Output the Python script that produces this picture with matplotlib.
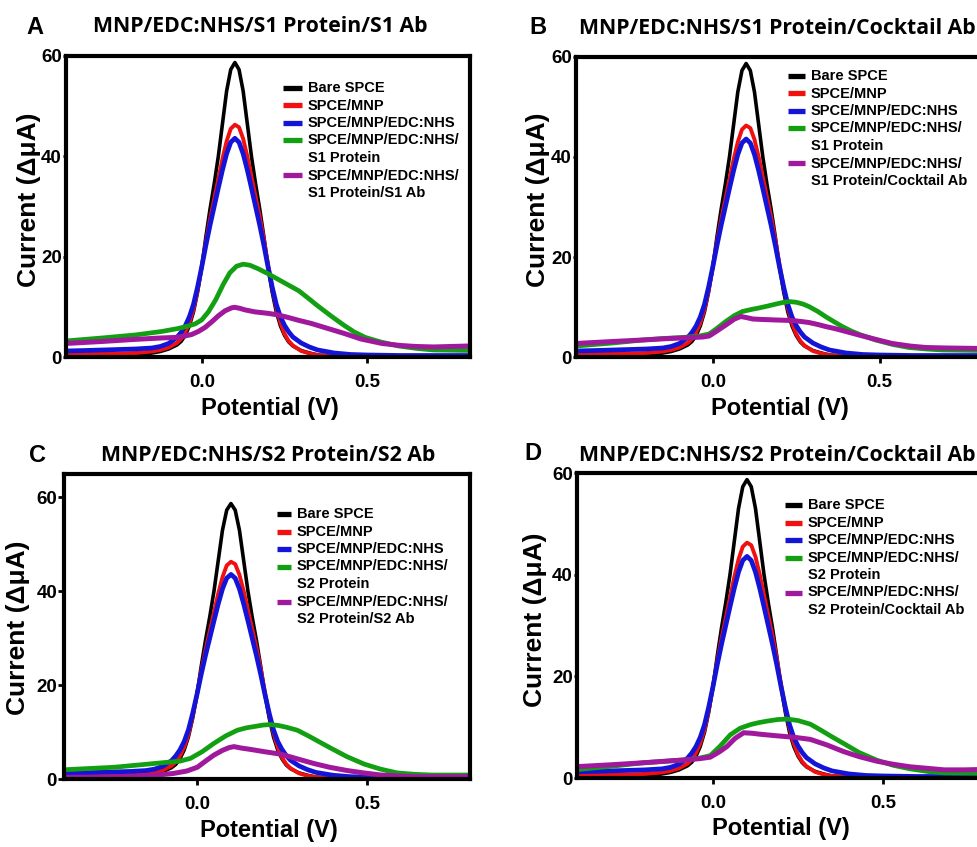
import matplotlib
matplotlib.use('Agg')
import matplotlib.pyplot as plt

# shared curves (same electrodes in every panel), potential in V, current in uA
pot = [-0.41, -0.35, -0.3, -0.25, -0.2, -0.15, -0.125, -0.1, -0.075, -0.0625, -0.05, -0.0375,
       -0.025, -0.0125, 0.0, 0.0125, 0.025, 0.0375, 0.05, 0.0625, 0.075, 0.0875, 0.1,
       0.1125, 0.125, 0.1375, 0.15, 0.1625, 0.175, 0.1875, 0.2, 0.2125, 0.225, 0.2375, 0.25,
       0.2625, 0.275, 0.3, 0.325, 0.35, 0.4, 0.45, 0.5, 0.6, 0.7, 0.81]
bare_spce = [0.1, 0.12, 0.15, 0.2, 0.35, 0.8, 1.1, 1.6, 2.4, 3.1, 4.3, 6.2,
             9.0, 13.0, 18.0, 24.0, 29.5, 34.5, 40.0, 46.5, 53.0, 57.3, 58.7,
             57.3, 53.0, 46.5, 40.0, 34.5, 29.5, 24.0, 18.0, 13.0, 9.0, 6.2, 4.3,
             3.0, 2.2, 1.3, 0.8, 0.4, 0.15, 0.05, 0.0, 0.0, 0.0, 0.0]
spce_mnp = [0.6, 0.6, 0.65, 0.7, 0.8, 1.1, 1.4, 1.9, 2.8, 3.6, 4.9, 6.8,
            9.5, 13.3, 18.0, 23.0, 27.5, 31.5, 35.5, 39.5, 43.0, 45.5, 46.3,
            45.8, 43.5, 40.0, 36.0, 32.0, 28.0, 23.5, 18.5, 13.8, 9.8, 6.8, 4.6,
            3.2, 2.3, 1.2, 0.7, 0.4, 0.2, 0.1, 0.05, 0.0, 0.0, 0.0]
spce_mnp_edc = [1.2, 1.3, 1.4, 1.5, 1.6, 1.8, 2.1, 2.7, 3.9, 4.9, 6.2, 8.0,
                10.5, 14.0, 18.0, 22.3, 26.3, 30.0, 33.7, 37.3, 40.5, 42.8, 43.6,
                42.8, 40.5, 37.3, 33.7, 30.0, 26.3, 22.3, 18.0, 14.0, 10.5, 8.0, 6.3,
                5.0, 4.0, 2.8, 2.0, 1.4, 0.8, 0.5, 0.4, 0.3, 0.3, 0.3]

# panel A
prot_a_x = [-0.41, -0.3, -0.2, -0.12, -0.07, -0.04, -0.02, 0.0, 0.02, 0.042, 0.065, 0.085,
            0.105, 0.125, 0.145, 0.17, 0.2, 0.23, 0.26, 0.293, 0.32, 0.35, 0.394, 0.43,
            0.46, 0.494, 0.54, 0.594, 0.65, 0.7, 0.81]
prot_a = [3.2, 3.8, 4.4, 5.1, 5.7, 6.2, 6.6, 7.4, 9.0, 11.4, 14.5, 16.8,
          18.1, 18.5, 18.3, 17.6, 16.6, 15.5, 14.4, 13.2, 11.8, 10.2, 8.0, 6.3,
          5.0, 3.9, 3.0, 2.2, 1.7, 1.4, 1.3]
ab_a_x = [-0.41, -0.3, -0.205, -0.12, -0.078, -0.05, -0.03, -0.01, 0.01, 0.03, 0.05, 0.07,
          0.09, 0.1, 0.115, 0.13, 0.16, 0.2, 0.229, 0.26, 0.293, 0.33, 0.37, 0.43,
          0.48, 0.544, 0.6, 0.645, 0.7, 0.81]
ab_a = [2.7, 3.1, 3.5, 3.8, 3.9, 4.2, 4.5, 5.1, 5.9, 7.0, 8.2, 9.2,
        9.8, 9.9, 9.7, 9.4, 9.0, 8.7, 8.4, 7.9, 7.3, 6.7, 5.9, 4.7,
        3.6, 2.7, 2.3, 2.1, 2.0, 2.2]

# panel B
prot_b_x = [-0.41, -0.3, -0.21, -0.15, -0.091, -0.04, -0.011, 0.01, 0.039, 0.065, 0.089,
            0.115, 0.138, 0.165, 0.19, 0.21, 0.228, 0.25, 0.27, 0.288, 0.315, 0.34, 0.365,
            0.388, 0.415, 0.44, 0.488, 0.54, 0.588, 0.64, 0.688, 0.81]
prot_b = [2.2, 2.8, 3.4, 3.7, 3.9, 4.2, 4.6, 5.6, 7.1, 8.3, 9.1,
          9.5, 9.8, 10.2, 10.6, 10.9, 11.1, 10.95, 10.6, 10.1, 9.1, 8.0, 7.0,
          6.1, 5.2, 4.5, 3.4, 2.5, 1.9, 1.6, 1.4, 1.3]
ab_b_x = [-0.41, -0.3, -0.21, -0.13, -0.061, -0.03, -0.011, 0.01, 0.039, 0.065, 0.084,
          0.1, 0.12, 0.15, 0.19, 0.238, 0.265, 0.288, 0.315, 0.338, 0.365, 0.388, 0.438,
          0.49, 0.538, 0.59, 0.638, 0.7, 0.81]
ab_b = [2.7, 3.1, 3.4, 3.7, 3.9, 4.0, 4.2, 5.1, 6.4, 7.6, 8.1,
        7.9, 7.6, 7.5, 7.4, 7.3, 7.1, 6.9, 6.5, 6.1, 5.7, 5.3, 4.4,
        3.5, 2.7, 2.2, 1.9, 1.8, 1.7]

# panel C
prot_c_x = [-0.41, -0.3, -0.244, -0.17, -0.097, -0.05, -0.019, 0.015, 0.05, 0.085, 0.119,
            0.145, 0.17, 0.195, 0.217, 0.24, 0.265, 0.295, 0.33, 0.36, 0.393, 0.44, 0.491,
            0.54, 0.589, 0.64, 0.69, 0.81]
prot_c = [1.9, 2.3, 2.5, 3.0, 3.5, 3.8, 4.4, 5.8, 7.6, 9.2, 10.4,
          10.9, 11.2, 11.5, 11.6, 11.4, 11.0, 10.4, 9.1, 7.9, 6.6, 4.8, 3.2,
          2.1, 1.3, 1.0, 0.85, 0.85]
ab_c_x = [-0.41, -0.3, -0.195, -0.12, -0.068, -0.03, 0.001, 0.025, 0.05, 0.075, 0.095,
          0.109, 0.13, 0.158, 0.2, 0.246, 0.29, 0.344, 0.39, 0.442, 0.49, 0.54, 0.59,
          0.64, 0.81]
ab_c = [0.35, 0.4, 0.5, 0.8, 1.2, 1.7, 2.5, 3.8, 5.1, 6.1, 6.7,
        6.9, 6.6, 6.3, 5.8, 5.3, 4.4, 3.3, 2.5, 1.8, 1.3, 0.85, 0.65,
        0.5, 0.5]

# panel D
prot_d_x = [-0.41, -0.3, -0.204, -0.14, -0.076, -0.04, -0.008, 0.02, 0.051, 0.08, 0.11,
            0.135, 0.16, 0.19, 0.218, 0.25, 0.286, 0.315, 0.35, 0.384, 0.43, 0.482, 0.53,
            0.58, 0.63, 0.68, 0.81]
prot_d = [1.6, 2.3, 3.0, 3.3, 3.6, 3.9, 4.4, 6.2, 8.5, 9.8, 10.5,
          10.9, 11.2, 11.5, 11.6, 11.3, 10.6, 9.5, 8.1, 6.8, 5.0, 3.5, 2.5,
          1.8, 1.3, 1.0, 0.9]
ab_d_x = [-0.41, -0.3, -0.204, -0.14, -0.076, -0.04, -0.008, 0.02, 0.041, 0.065, 0.09,
          0.115, 0.14, 0.188, 0.24, 0.286, 0.335, 0.384, 0.43, 0.482, 0.53, 0.58, 0.63,
          0.68, 0.74, 0.81]
ab_d = [2.2, 2.6, 3.0, 3.3, 3.6, 3.8, 4.1, 5.2, 6.2, 7.8, 8.9,
        8.8, 8.6, 8.3, 8.0, 7.6, 6.5, 5.2, 4.2, 3.3, 2.7, 2.2, 1.9,
        1.6, 1.6, 1.7]

common_labels = ['Bare SPCE', 'SPCE/MNP', 'SPCE/MNP/EDC:NHS']
colors = ['#000000', '#f01010', '#1414d8', '#12a012', '#a0189c']
widths = [2.6, 2.8, 3.4, 3.4, 3.6]

W, H = 977, 847
plt.rcParams['font.family'] = ['Liberation Sans', 'DejaVu Sans']
fig = plt.figure(figsize=(W / 100, H / 100), dpi=100)

# pixel layout: axes rect (left, top, width, height), legend anchor, label spots
panels = [
    dict(letter='A', title='MNP/EDC:NHS/S1 Protein/S1 Ab',
         rect=(66, 56, 404, 301), xlim=(-0.41, 0.81), ylim=(0, 60), ticklen=2,
         prot=(prot_a_x, prot_a, 'S1 Protein'), ab=(ab_a_x, ab_a, 'S1 Protein/S1 Ab'),
         leg=(283, 88, 19), let_xy=(35, 27), tit_xy=(260, 27), yl=(29, 200), xl=(270, 408)),
    dict(letter='B', title='MNP/EDC:NHS/S1 Protein/Cocktail Ab',
         rect=(576, 57, 407, 300), xlim=(-0.41, 0.81), ylim=(0, 60), ticklen=2,
         prot=(prot_b_x, prot_b, 'S1 Protein'), ab=(ab_b_x, ab_b, 'S1 Protein/Cocktail Ab'),
         leg=(788, 76, 17), let_xy=(538, 27), tit_xy=(777, 28), yl=(538, 200), xl=(780, 408)),
    dict(letter='C', title='MNP/EDC:NHS/S2 Protein/S2 Ab',
         rect=(64, 474, 406, 305), xlim=(-0.391, 0.803), ylim=(0, 65), ticklen=4,
         prot=(prot_c_x, prot_c, 'S2 Protein'), ab=(ab_c_x, ab_c, 'S2 Protein/S2 Ab'),
         leg=(277, 514, 14), let_xy=(37, 455), tit_xy=(268, 455), yl=(18, 628), xl=(269, 830)),
    dict(letter='D', title='MNP/EDC:NHS/S2 Protein/Cocktail Ab',
         rect=(577, 473, 407, 305), xlim=(-0.40, 0.797), ylim=(0, 60), ticklen=2,
         prot=(prot_d_x, prot_d, 'S2 Protein'), ab=(ab_d_x, ab_d, 'S2 Protein/Cocktail Ab'),
         leg=(785, 505, 17), let_xy=(533, 453), tit_xy=(777, 455), yl=(535, 620), xl=(781, 828)),
]

for p in panels:
    l, t, w, h = p['rect']
    ax = fig.add_axes([l / W, 1 - (t + h) / H, w / W, h / H])
    series = [(pot, bare_spce), (pot, spce_mnp), (pot, spce_mnp_edc),
              (p['prot'][0], p['prot'][1]), (p['ab'][0], p['ab'][1])]
    for (xs, ys), c, lw in zip(series, colors, widths):
        ax.plot(xs, ys, color=c, lw=lw, solid_joinstyle='round', solid_capstyle='round')
    ax.set_xlim(*p['xlim'])
    ax.set_ylim(*p['ylim'])
    ax.set_xticks([0.0, 0.5])
    ax.set_xticklabels(['0.0', '0.5'])
    ax.set_yticks([0, 20, 40, 60])
    for s in ax.spines.values():
        s.set_linewidth(3)
    ax.tick_params(axis='y', length=p['ticklen'], width=2, pad=1, labelsize=13.5)
    ax.tick_params(axis='x', length=4, width=2, pad=8, labelsize=13.5)
    for lab in ax.get_xticklabels() + ax.get_yticklabels():
        lab.set_fontweight('bold')

    # legend drawn by hand so the handle sits on the first line of wrapped labels
    labels = common_labels + ['SPCE/MNP/EDC:NHS/\n' + p['prot'][2],
                              'SPCE/MNP/EDC:NHS/\n' + p['ab'][2]]
    hx, hy, hlen = p['leg']
    row = 0
    for lab, c in zip(labels, colors):
        y = hy + row * 17.5
        fig.add_artist(plt.Line2D([hx / W, (hx + hlen) / W], [1 - y / H, 1 - y / H],
                                  color=c, lw=3.8, solid_capstyle='butt'))
        for k, part in enumerate(lab.split('\n')):
            fig.text((hx + hlen + 6) / W, 1 - (y + k * 17.5) / H, part, fontsize=10.5,
                     fontweight='bold', ha='left', va='center')
        row += lab.count('\n') + 1

    fig.text(p['let_xy'][0] / W, 1 - p['let_xy'][1] / H, p['letter'], fontsize=17,
             fontweight='bold', ha='center', va='center')
    fig.text(p['tit_xy'][0] / W, 1 - p['tit_xy'][1] / H, p['title'], fontsize=15.3,
             fontweight='bold', ha='center', va='center', family='Open Sans')
    fig.text(p['yl'][0] / W, 1 - p['yl'][1] / H, 'Current (ΔμA)', fontsize=19,
             fontweight='bold', ha='center', va='center', rotation=90)
    fig.text(p['xl'][0] / W, 1 - p['xl'][1] / H, 'Potential (V)', fontsize=17,
             fontweight='bold', ha='center', va='center')

fig.savefig('out.png', dpi=100)
